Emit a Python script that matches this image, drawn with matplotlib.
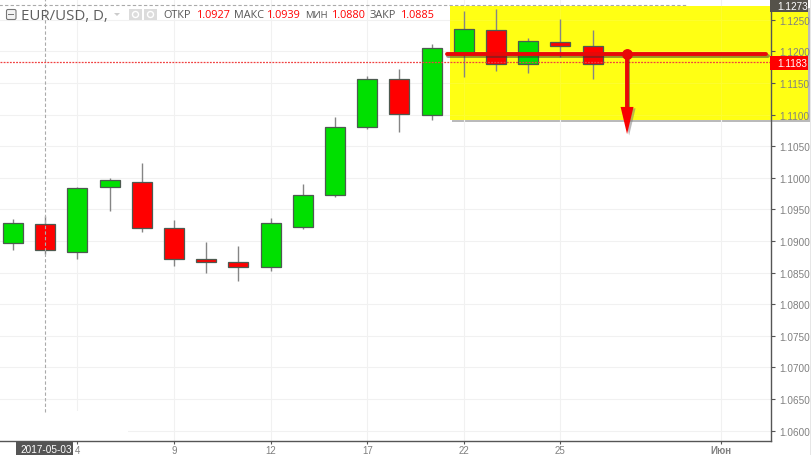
import matplotlib
matplotlib.use("Agg")
import matplotlib.pyplot as plt
import matplotlib.patheffects as pe
from matplotlib.patches import Rectangle, FancyBboxPatch, Polygon
from matplotlib.transforms import Affine2D

# daily candles, 2 May .. 26 May 2017
days = list(range(19))
opens = [1.0896, 1.0927, 1.0882, 1.0986, 1.0994, 1.0920, 1.0871, 1.0866, 1.0858, 1.0922,
         1.0972, 1.1080, 1.1157, 1.1099, 1.1196, 1.1233, 1.1180, 1.1215, 1.1208]
highs = [1.0935, 1.0939, 1.0986, 1.0999, 1.1023, 1.0933, 1.0898, 1.0892, 1.0936, 1.0990,
         1.1096, 1.1161, 1.1172, 1.1212, 1.1264, 1.1267, 1.1221, 1.1251, 1.1234]
lows = [1.0886, 1.0880, 1.0871, 1.0947, 1.0914, 1.0860, 1.0850, 1.0837, 1.0853, 1.0919,
        1.0970, 1.1077, 1.1072, 1.1092, 1.1159, 1.1169, 1.1166, 1.1191, 1.1157]
closes = [1.0928, 1.0885, 1.0983, 1.0996, 1.0921, 1.0872, 1.0866, 1.0859, 1.0928, 1.0972,
          1.1080, 1.1157, 1.1101, 1.1205, 1.1236, 1.1180, 1.1217, 1.1208, 1.1180]

x_tick_pos = [2, 5, 8, 11, 14, 17, 22]
x_tick_labels = ["4", "9", "12", "17", "22", "25", "Июн"]
y_ticks = [1.06, 1.065, 1.07, 1.075, 1.08, 1.085, 1.09, 1.095, 1.10, 1.105, 1.11, 1.115, 1.12, 1.125]

last_price = 1.1183
cross_price = 1.1273
cross_day = 1
level = 1.1196
level_start, level_end = 13.48, 23.4
arrow_day = 19.07
arrow_tip = 1.1069
zone_left, zone_right = 13.57, 24.69
zone_bottom, zone_top = 1.1092, 1.1272

GREEN = "#00e000"
RED = "#ff0000"
EDGE = "#4d5a50"
TICK = "#808080"
DARK = "#555555"
LINE_RED = "#e80808"
YELLOW = "#ffff14"

fig = plt.figure(figsize=(8.12, 4.56), dpi=100)
ax = fig.add_axes([0, 14 / 456, 770.7 / 812, 442 / 456])
ax.set_xlim(-13 / 32.2, 757.7 / 32.2)
ax.set_ylim(1.05834, 1.12828)
ax.set_axisbelow("line")

# pixel coords for the platform chrome around the chart
px = Affine2D().scale(1 / 812, -1 / 456).translate(0, 1) + fig.transFigure

ax.set_xticks(x_tick_pos)
ax.set_xticklabels(x_tick_labels, fontsize=7, color=TICK, family="Liberation Sans")
ax.get_xticklabels()[-1].set_fontweight("bold")
ax.yaxis.tick_right()
ax.set_yticks(y_ticks)
ax.set_yticklabels([f"{v:.4f}" for v in y_ticks], fontsize=7.2, color=TICK, family="Liberation Sans")
ax.tick_params(axis="x", length=2.5, width=0.8, color=DARK, pad=0.5)
ax.tick_params(axis="y", length=3, width=0.8, color=DARK, pad=3)
ax.grid(True, color="#f1f1f1", lw=0.8)
for side in ["top", "left"]:
    ax.spines[side].set_visible(False)
for side in ["right", "bottom"]:
    ax.spines[side].set_color(DARK)
    ax.spines[side].set_linewidth(1)

# yellow zone, runs over the price scale
zone = Rectangle((zone_left, zone_bottom), zone_right - zone_left, zone_top - zone_bottom,
                 facecolor=YELLOW, edgecolor="none", zorder=1, clip_on=False,
                 path_effects=[pe.withSimplePatchShadow(offset=(1.5, -1.5), shadow_rgbFace="#777777", alpha=0.5)])
ax.add_patch(zone)
# second pass inside the axes so the grid only shows faintly through the yellow
ax.add_patch(Rectangle((zone_left, zone_bottom), zone_right - zone_left, zone_top - zone_bottom,
                       facecolor=YELLOW, edgecolor="none", alpha=0.88, zorder=1.6))

# white strip in the bottom left hides the grid
ax.add_patch(Rectangle((0, 412), 128, 30, transform=px, facecolor="white", edgecolor="none", zorder=1.6))

ax.vlines(days, lows, highs, color="#858585", lw=1, zorder=3)
colors = [GREEN if c >= o else RED for o, c in zip(opens, closes)]
ax.bar(days, [abs(c - o) for o, c in zip(opens, closes)], bottom=[min(o, c) for o, c in zip(opens, closes)],
       width=0.62, color=colors, edgecolor=EDGE, linewidth=0.9, zorder=4)

# crosshair and last price
ax.axvline(cross_day, ymin=(442 - 413) / 442, color="#aaaaaa", lw=0.8, ls=(0, (3, 2)), zorder=5)
ax.plot([-1, 20.9], [cross_price, cross_price], color="#aaaaaa", lw=0.8, ls=(0, (3, 2)), zorder=5)
ax.axhline(last_price, color="#f04040", lw=0.9, ls=(0, (1.5, 1)), zorder=5)

# drawn level and arrow
shadow = [pe.SimpleLineShadow(offset=(1, -1.5), shadow_color="#333333", alpha=0.5), pe.Normal()]
ax.plot([level_start, level_end], [level, level], color=LINE_RED, lw=2.8, solid_capstyle="round",
        zorder=6, path_effects=shadow)
ax.plot([arrow_day, arrow_day], [level, arrow_tip + 0.0040], color=LINE_RED, lw=2.8, zorder=6,
        clip_on=False, path_effects=shadow)
head = Polygon([(arrow_day - 0.2, arrow_tip + 0.0043), (arrow_day + 0.2, arrow_tip + 0.0043), (arrow_day, arrow_tip)],
               facecolor="#f80000", edgecolor="none", zorder=7,
               path_effects=[pe.withSimplePatchShadow(offset=(1.5, -1), shadow_rgbFace="#777777", alpha=0.5)])
ax.add_patch(head)
ax.plot([arrow_day], [level], "o", color=LINE_RED, ms=6.8, zorder=7)

# price and date boxes
for x0, y0, w, h, col, label, xt, yt in [
    (770, 0, 38, 13, "#55524a", "1.1273", 777, 7),
    (770, 57, 38, 14, RED, "1.1183", 777, 64),
    (16, 442, 57, 14, DARK, "2017-05-03", 20, 450),
]:
    fig.add_artist(Rectangle((x0, y0), w, h, transform=px, facecolor=col, edgecolor="none"))
    fig.text(xt, yt, label, transform=px, color="white", fontsize=7.2, va="center", ha="left",
             family="Liberation Sans")

# header row
fig.add_artist(FancyBboxPatch((6.5, 10.5), 9.5, 10, boxstyle="round,pad=0,rounding_size=1.5", transform=px,
                              facecolor="#f4f4f4", edgecolor="#777777", lw=0.8))
fig.add_artist(Rectangle((8.5, 15), 5.5, 1, transform=px, facecolor="#777777", edgecolor="none"))
fig.text(21, 16, "EUR/USD, D,", transform=px, fontsize=10.8, color="#5f5f5f", va="center", family="Open Sans")
fig.add_artist(Polygon([(114, 14), (120, 14), (117, 17)], transform=px, facecolor="#cccccc", edgecolor="none"))
for x0 in [129, 144]:
    fig.add_artist(Rectangle((x0, 10), 13, 11, transform=px, facecolor="#dcdcdc", edgecolor="none"))
    fig.add_artist(plt.Circle((x0 + 6.5, 15.5), 3, transform=px, facecolor="none", edgecolor="white", lw=1))

header = [("ОТКР", 163, "#555555", 7.8), ("1.0927", 197, RED, 7.8), ("МАКС", 234, "#555555", 7.8),
          ("1.0939", 267, RED, 7.8), ("МИН", 305, "#555555", 6.8), ("1.0880", 332, RED, 7.8),
          ("ЗАКР", 370, "#555555", 7.8), ("1.0885", 401, RED, 7.8)]
for label, xt, col, size in header:
    fig.text(xt, 16, label, transform=px, fontsize=size, color=col, va="center", family="Open Sans")

fig.add_artist(Rectangle((810, 0), 2, 456, transform=px, facecolor="#e6e6e6", edgecolor="none"))

fig.savefig("out.png", dpi=100)
